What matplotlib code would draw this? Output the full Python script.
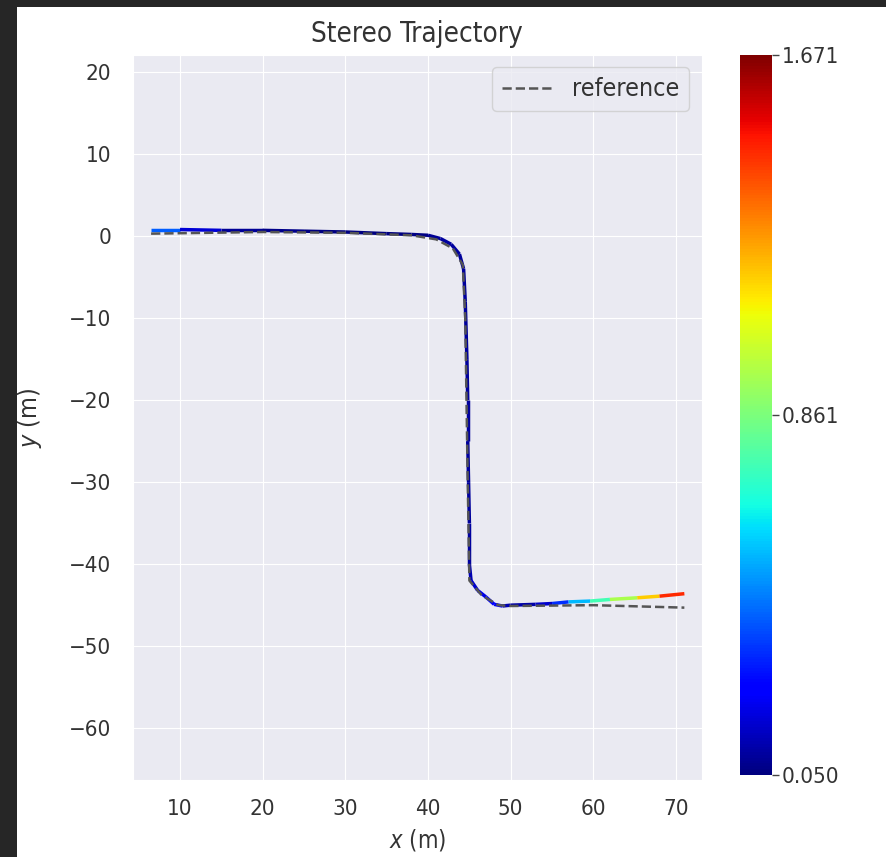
import numpy as np
import matplotlib
matplotlib.use("Agg")
import matplotlib.pyplot as plt
import matplotlib.colors as colors
from matplotlib.collections import LineCollection
from matplotlib.patches import Rectangle
import seaborn as sns

# estimated trajectory (m) and error
est_x = [6.5, 10, 15, 20, 25, 30, 35, 38, 40, 41.5, 42.8, 43.8, 44.3, 44.5, 44.7, 44.8,
         44.8, 44.9, 45.0, 45.0, 45.2, 46.0, 47.0, 48.0, 49.0, 50.0, 53.0, 55.0, 57.0,
         59.6, 62.0, 65.3, 68.0, 71.0]
est_y = [0.8, 0.8, 0.7, 0.7, 0.6, 0.5, 0.3, 0.2, 0.1, -0.3, -1.0, -2.2, -4.0, -8.0, -15.0, -20.0,
         -25.0, -30.0, -35.0, -40.0, -42.0, -43.2, -44.0, -44.9, -45.1, -45.0, -44.9, -44.8, -44.6,
         -44.5, -44.3, -44.1, -43.9, -43.6]
err = [0.55, 0.25, 0.1, 0.07, 0.06, 0.05, 0.05, 0.05, 0.07, 0.1, 0.1, 0.09, 0.09, 0.09, 0.09, 0.09,
       0.09, 0.09, 0.09, 0.1, 0.14, 0.18, 0.22, 0.28, 0.15, 0.1, 0.12, 0.2, 0.45,
       0.65, 0.85, 1.05, 1.3, 1.6]

ref_x = [6.5, 20, 30, 38, 41, 43, 44.2, 44.5, 44.8, 45.0, 46.5, 48.5, 50, 60, 71]
ref_y = [0.3, 0.5, 0.4, 0.1, -0.4, -1.5, -3.5, -10, -30, -42, -43.8, -45.0, -45.1, -45.0, -45.3]

err_min, err_max = 0.050, 1.671
cbar_ticks = [0.050, 0.861, 1.671]

sns.set_style("darkgrid")
plt.rcParams["font.family"] = ["DejaVu Sans"]
plt.rcParams["font.stretch"] = "condensed"

fig = plt.figure(figsize=(8.86, 8.57), dpi=100)
fig.patch.set_facecolor("#262626")
fig.patches.append(Rectangle((17 / 886, 0), 1, 1 - 7 / 857, transform=fig.transFigure,
                             facecolor="white", edgecolor="none", zorder=-10))

ax = fig.add_axes([0.150, 0.090, 0.642, 0.846])
cax = fig.add_axes([0.835, 0.096, 0.036, 0.840])

pts = np.column_stack([est_x, est_y])
segs = np.stack([pts[:-1], pts[1:]], axis=1)
seg_err = (np.array(err[:-1]) + np.array(err[1:])) / 2
norm = colors.Normalize(vmin=err_min, vmax=err_max)
lc = LineCollection(segs, cmap="jet", norm=norm, linewidth=2.5)
lc.set_array(seg_err)
ax.add_collection(lc)

ax.plot(ref_x, ref_y, "--", color="#555555", linewidth=1.8, label="reference", zorder=3)

ax.set_xlim(4.3, 73.1)
ax.set_ylim(-66.3, 22.1)
ax.set_xticks([10, 20, 30, 40, 50, 60, 70])
ax.set_yticks([20, 10, 0, -10, -20, -30, -40, -50, -60])
ax.tick_params(labelsize=16, labelcolor="#333333")
ax.tick_params(axis="y", pad=12)
ax.tick_params(axis="x", pad=10)
ax.set_xlabel("$x$ (m)", fontsize=17, labelpad=6, color="#333333")
ax.set_ylabel("$y$ (m)", fontsize=18, labelpad=18, color="#333333")
ax.set_title("Stereo Trajectory", fontsize=20, pad=9, color="#333333")
leg = ax.legend(loc="upper right", fontsize=18, handlelength=2)
for t in leg.get_texts():
    t.set_color("#333333")

cb = fig.colorbar(lc, cax=cax, ticks=cbar_ticks)
cb.outline.set_visible(False)
cb.ax.set_yticklabels([f"{t:.3f}" for t in cbar_ticks])
cb.ax.tick_params(labelsize=16, length=5, width=1, color="#444444", pad=2, labelcolor="#333333")

fig.savefig("out.png", dpi=100, facecolor=fig.get_facecolor())
